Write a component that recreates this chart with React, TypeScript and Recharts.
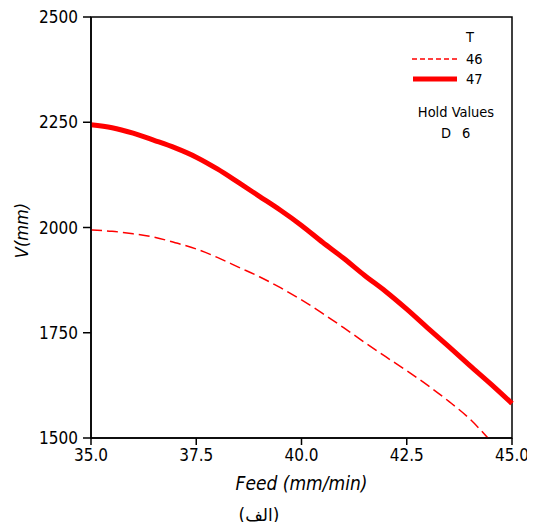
import {
  LineChart,
  Line,
  XAxis,
  YAxis,
  Legend,
  Label,
  ReferenceArea,
} from "recharts";

const feed = [
  35.0, 35.5, 36.0, 36.5, 37.0, 37.5, 38.0, 38.5, 39.0, 39.5, 40.0, 40.5, 41.0,
  41.5, 42.0, 42.5, 43.0, 43.5, 44.0, 44.5, 45.0,
];
const v46 = [
  1994, 1991, 1985, 1977, 1964, 1949, 1929, 1906, 1883, 1857, 1828, 1796, 1762,
  1727, 1693, 1660, 1625, 1587, 1545, 1492, 1435,
];
const v47 = [
  2244, 2237, 2224, 2207, 2189, 2167, 2139, 2107, 2074, 2041, 2005, 1965, 1927,
  1886, 1848, 1806, 1761, 1717, 1672, 1628, 1582,
];
const xTicks = [35, 37.5, 40, 42.5, 45];
const yTicks = [1500, 1750, 2000, 2250, 2500];

const data = feed.map((f, i) => ({ feed: f, t46: v46[i], t47: v47[i] }));

const FONT = "'DejaVu Sans Condensed', 'Liberation Sans', sans-serif";
const RED = "#ff0000";

function HoldLegend() {
  return (
    <svg width={110} height={125} style={{ fontFamily: FONT, fontSize: 14.5 }}>
      <text x={65} y={12} textAnchor="middle" dominantBaseline="central">T</text>
      <line x1={7} y1={34} x2={52} y2={34} stroke={RED} strokeWidth={1.5} strokeDasharray="5 3" />
      <text x={61} y={34} dominantBaseline="central">46</text>
      <line x1={8} y1={54} x2={52} y2={54} stroke={RED} strokeWidth={5} />
      <text x={61} y={54} dominantBaseline="central">47</text>
      <text x={51} y={87} textAnchor="middle" dominantBaseline="central">Hold Values</text>
      <text x={36} y={108} dominantBaseline="central">D</text>
      <text x={57} y={108} dominantBaseline="central">6</text>
    </svg>
  );
}

export default function App() {
  const tickStyle = { fill: "#000", fontSize: 17, fontFamily: FONT };
  return (
    <div style={{ position: "relative", width: 527, height: 514, fontFamily: FONT }}>
      <LineChart
        width={527}
        height={514}
        data={data}
        margin={{ top: 9, right: 23, left: 0, bottom: 54 }}
      >
        <XAxis
          dataKey="feed"
          type="number"
          domain={[35, 45]}
          ticks={xTicks}
          tickFormatter={(v: number) => v.toFixed(1)}
          height={30}
          tickSize={7}
          tickMargin={4}
          tick={tickStyle}
          stroke="#000"
          strokeWidth={1.5}
          interval={0}
        >
          <Label
            value="Feed (mm/min)"
            position="bottom"
            offset={9}
            style={{ fill: "#000", fontSize: 19, fontStyle: "italic", fontFamily: FONT }}
          />
        </XAxis>
        <YAxis
          type="number"
          domain={[1500, 2500]}
          ticks={yTicks}
          allowDataOverflow
          width={83}
          tickSize={8}
          tickMargin={5}
          tick={tickStyle}
          stroke="#000"
          strokeWidth={1.5}
          interval={0}
        >
          <Label
            value="V(mm)"
            angle={-90}
            position="insideLeft"
            offset={14}
            dy={3}
            style={{ fill: "#000", fontSize: 18, fontStyle: "italic", fontFamily: FONT, textAnchor: "middle" }}
          />
        </YAxis>
        <ReferenceArea
          x1={35}
          x2={45}
          y1={1500}
          y2={2500}
          fill="none"
          stroke="#000"
          strokeWidth={1.5}
        />
        <Line
          dataKey="t46"
          type="monotone"
          stroke={RED}
          strokeWidth={1.5}
          strokeDasharray="11 5"
          dot={false}
          isAnimationActive={false}
        />
        <Line
          dataKey="t47"
          type="monotone"
          stroke={RED}
          strokeWidth={5}
          dot={false}
          isAnimationActive={false}
        />
        <Legend
          layout="vertical"
          align="center"
          verticalAlign="middle"
          content={() => <HoldLegend />}
          wrapperStyle={{ position: "absolute", left: 397, top: 17, width: 110, height: 125 }}
        />
      </LineChart>
      <div
        dir="rtl"
        style={{
          position: "absolute",
          left: 211,
          top: 497,
          width: 80,
          textAlign: "center",
          fontSize: 17,
          lineHeight: "20px",
          fontFamily: "'DejaVu Sans', sans-serif",
        }}
      >
        (الف)
      </div>
    </div>
  );
}
